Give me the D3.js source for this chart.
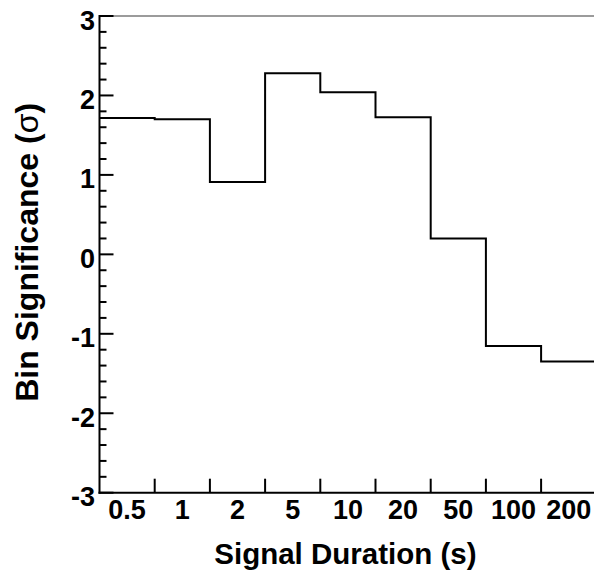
<!DOCTYPE html>
<html>
<head>
<meta charset="utf-8">
<script src="https://cdn.jsdelivr.net/npm/d3@7/dist/d3.min.js"></script>
<style>
  html, body { margin: 0; padding: 0; background: #fff; }
  svg { display: block; }
  text { font-family: "Liberation Sans", Arial, Helvetica, sans-serif; font-weight: bold; fill: #000; }
</style>
</head>
<body>
<svg id="chart" width="594" height="573"></svg>
<script>
const categories = ["0.5", "1", "2", "5", "10", "20", "50", "100", "200"];
const values = [1.716, 1.70, 0.91, 2.28, 2.04, 1.725, 0.20, -1.155, -1.35];
const yTicks = [-3, -2, -1, 0, 1, 2, 3];
const yDomain = [-3, 3];
const xTitle = "Signal Duration (s)";
const yTitle = "Bin Significance (";

(function () {
const W = 594, H = 573;
const mLeft = 99.5, mRight = 596.3, mTop = 16, mBottom = 492.7;

const svg = d3.select("#chart");

const x = d3.scaleBand().domain(categories).range([mLeft, mRight]).paddingInner(0).paddingOuter(0);
const y = d3.scaleLinear().domain(yDomain).range([mBottom, mTop]);

// top frame line
svg.append("line")
  .attr("x1", mLeft).attr("x2", W).attr("y1", mTop).attr("y2", mTop)
  .attr("stroke", "#7a7a7a").attr("stroke-width", 1.6);

// histogram step line
const pts = categories.map((c, i) => [x(c), y(values[i])]);
const last = categories[categories.length - 1];
pts.push([x(last) + x.bandwidth(), y(values[values.length - 1])]);
svg.append("path")
  .attr("d", d3.line().curve(d3.curveStepAfter)(pts))
  .attr("fill", "none").attr("stroke", "#000").attr("stroke-width", 2);

// Y axis
const minor = d3.range(yDomain[0], yDomain[1] + 1e-9, 0.2).map(v => Math.round(v * 10) / 10)
  .filter(v => !yTicks.includes(v));
const yg = svg.append("g");
yg.selectAll("line.minor").data(minor).join("line").attr("class", "minor")
  .attr("x1", mLeft).attr("x2", mLeft + 7)
  .attr("y1", d => y(d)).attr("y2", d => y(d))
  .attr("stroke", "#000").attr("stroke-width", 2);
yg.selectAll("line.major").data(yTicks).join("line").attr("class", "major")
  .attr("x1", mLeft).attr("x2", mLeft + 14)
  .attr("y1", d => y(d)).attr("y2", d => y(d))
  .attr("stroke", "#000").attr("stroke-width", 2);
yg.selectAll("text").data(yTicks).join("text")
  .attr("x", mLeft - 4.5).attr("y", d => y(d) + 13.5)
  .attr("text-anchor", "end").attr("font-size", 27)
  .text(d => d);
svg.append("line")
  .attr("x1", mLeft).attr("x2", mLeft).attr("y1", mTop - 1).attr("y2", mBottom + 1)
  .attr("stroke", "#000").attr("stroke-width", 2);

// X axis
const xg = svg.append("g");
xg.selectAll("line").data(categories.slice(1)).join("line")
  .attr("x1", d => x(d)).attr("x2", d => x(d))
  .attr("y1", mBottom).attr("y2", mBottom - 14)
  .attr("stroke", "#000").attr("stroke-width", 2);
xg.selectAll("text").data(categories).join("text")
  .attr("x", d => x(d) + x.bandwidth() / 2).attr("y", 518.5)
  .attr("text-anchor", "middle").attr("font-size", 27)
  .text(d => d);
svg.append("line")
  .attr("x1", mLeft - 1).attr("x2", W).attr("y1", mBottom).attr("y2", mBottom)
  .attr("stroke", "#000").attr("stroke-width", 2);

// titles
svg.append("text")
  .attr("x", 345.4).attr("y", 563.5)
  .attr("text-anchor", "middle").attr("font-size", 29.5)
  .text(xTitle);

const yt = svg.append("text")
  .attr("transform", "translate(37.5,252.4) rotate(-90)")
  .attr("text-anchor", "middle").attr("font-size", 32);
yt.append("tspan").text(yTitle);
yt.append("tspan").attr("font-weight", "normal").text("σ");
yt.append("tspan").text(")");
})();
</script>
</body>
</html>
